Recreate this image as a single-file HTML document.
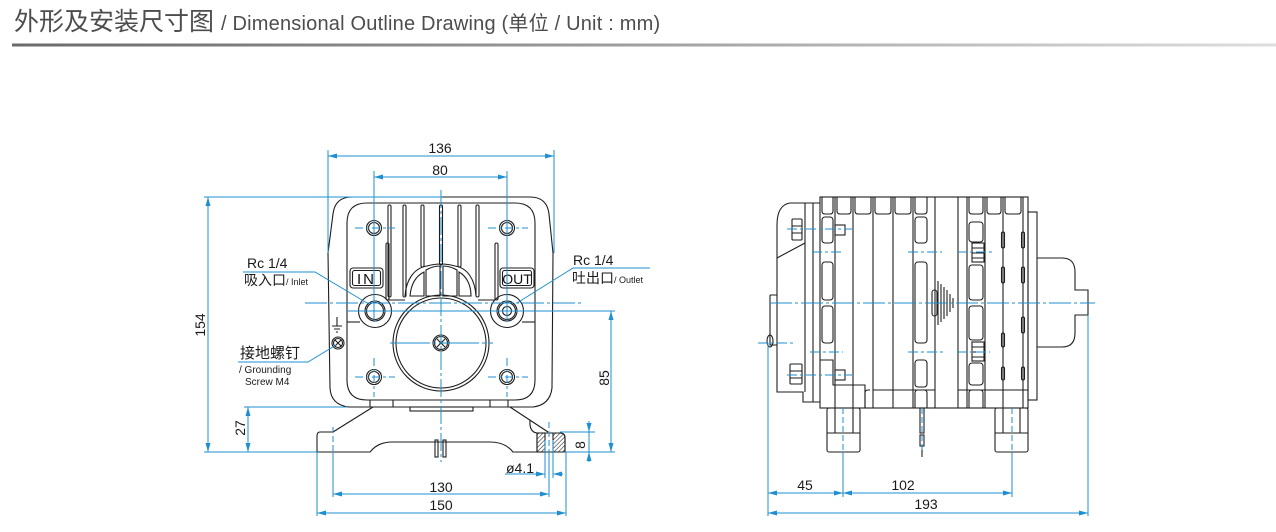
<!DOCTYPE html>
<html><head><meta charset="utf-8"><style>
html,body{margin:0;padding:0;background:#fff;}
svg{display:block;}
text{font-family:"Liberation Sans","Noto Sans CJK SC",sans-serif;}
</style></head><body>
<svg width="1276" height="532" viewBox="0 0 1276 532" xmlns="http://www.w3.org/2000/svg">
<defs>
<linearGradient id="g" x1="0" x2="1"><stop offset="0" stop-color="#6a6a6a"/><stop offset="0.45" stop-color="#9a9a9a"/><stop offset="1" stop-color="#dedede"/></linearGradient>
<marker id="a" viewBox="0 0 9 5" refX="9" refY="2.5" markerWidth="9" markerHeight="5" markerUnits="userSpaceOnUse" orient="auto-start-reverse"><path d="M0,0 L9,2.5 L0,5 z" fill="#1f8fd1"/></marker>
<pattern id="h" width="3" height="3" patternUnits="userSpaceOnUse" patternTransform="rotate(45)"><line x1="0" y1="0" x2="0" y2="3" stroke="#222" stroke-width="1.1"/></pattern>
</defs>

<!-- Title -->
<text x="14" y="30" font-size="25" fill="#4d4d4d" font-family="Noto Sans CJK SC, sans-serif">外形及安装尺寸图</text>
<text x="221" y="30" font-size="20" fill="#4d4d4d" letter-spacing="0.2">/ Dimensional Outline Drawing (单位 / Unit : mm)</text>
<rect x="12" y="43.5" width="1264" height="3" fill="url(#g)"/>

<!-- ================= LEFT VIEW (black) ================= -->
<g stroke="#1e1e1e" fill="none" stroke-width="1.1">
  <path d="M328,253 L333,214 Q335,197 352,197 L530,197 Q547,197 549,214 L553,253 L552,388 Q550,405 533,407 L349,407 Q331,405 330,388 Z"/>
  <path d="M347,223 Q347,203 367,203 L515,203 Q535,203 535,223 L535,380 Q535,400 515,400 L367,400 Q347,400 347,380 Z"/>
  <path d="M347,322 L360,322"/>
  <path d="M535,322 L522,322"/>
  <rect x="388" y="205" width="3" height="92" rx="1.5"/>
  <rect x="403" y="205" width="3" height="92" rx="1.5"/>
  <rect x="421" y="205" width="3" height="62" rx="1.5"/>
  <rect x="439.5" y="205" width="3" height="60" rx="1.5"/>
  <rect x="458" y="205" width="3" height="62" rx="1.5"/>
  <rect x="476" y="205" width="3" height="92" rx="1.5"/>
  <rect x="386" y="243" width="3" height="57" rx="1.5"/>
  <rect x="495" y="243" width="3" height="57" rx="1.5"/>
  <path d="M389,300 L405,300 M478,300 L495,300"/>
  <path d="M405,296 C406,280 414,268 427,266 Q441,262 455,266 C468,268 475,280 476,296"/>
  <path d="M410,296 C411,284 416,276 424,272 L424,296 Z"/>
  <path d="M426,296 L426,270 Q433,266 440,266 L440,296 Z"/>
  <path d="M443,296 L443,266 Q450,266 457,270 L457,296 Z"/>
  <path d="M459,296 L459,272 C466,276 471,284 471,296 Z"/>
  <circle cx="374" cy="228" r="7.5"/><circle cx="374" cy="228" r="5.5"/>
  <circle cx="507" cy="228" r="7.5"/><circle cx="507" cy="228" r="5.5"/>
  <circle cx="374" cy="377" r="7.5"/><circle cx="374" cy="377" r="5.5"/>
  <circle cx="507" cy="377" r="7.5"/><circle cx="507" cy="377" r="5.5"/>
  <circle cx="375" cy="311" r="16.5"/><circle cx="375" cy="311" r="10"/><circle cx="375" cy="311" r="8.5"/>
  <circle cx="507" cy="311" r="16.5"/><circle cx="507" cy="311" r="10"/><circle cx="507" cy="311" r="8.5"/><circle cx="507" cy="311" r="4.5"/>
  <rect x="350" y="268" width="33" height="20" rx="3"/>
  <rect x="352.5" y="270.5" width="28" height="15" rx="2"/>
  <rect x="500" y="268" width="34" height="20" rx="3"/>
  <rect x="502.5" y="270.5" width="29" height="15" rx="2"/>
  <circle cx="441" cy="343" r="48"/>
  <circle cx="441" cy="343" r="45"/>
  <circle cx="441" cy="343" r="8"/>
  <circle cx="441" cy="343" r="6.5"/>
  <path d="M437,339 L445,347 M445,339 L437,347"/>
  <path d="M337,317 L337,326 M332,326 L342,326 M334,329 L340,329 M336,332 L338,332"/>
  <circle cx="338" cy="343" r="6"/>
  <circle cx="338" cy="343" r="4.5"/>
  <path d="M335,340 L341,346 M341,340 L335,346"/>
  <path d="M370,400 L370,407 M393,400 L393,407 M490,400 L490,407 M508,400 L508,407"/>
  <rect x="410" y="407" width="63" height="4"/>
  <path d="M333,432 L320,432 Q317,432 317,436 L317,452 L370,452 Q378,442 392,442 L490,442 Q505,442 513,452 L537,452"/>
  <path d="M333,432 L373,407"/>
  <path d="M510,407 L548,432"/>
  <path d="M530,420 Q529,432 537,433"/>
  <path d="M537,433 L560,433 Q565,433 565,438 L565,452 L537,452 Z"/>
  <rect x="537" y="433" width="8" height="19" fill="url(#h)"/>
  <path d="M553,433 L560,433 Q565,433 565,438 L565,452 L553,452 Z" fill="url(#h)"/>
  <rect x="435" y="440" width="3" height="17"/>
  <rect x="443" y="440" width="3" height="17"/>
</g>
<text x="366.5" y="284" font-size="15" text-anchor="middle" fill="#111" letter-spacing="2">IN</text>
<text x="517" y="284" font-size="14" text-anchor="middle" fill="#111">OUT</text>

<!-- ================= LEFT VIEW (blue) ================= -->
<g stroke="#1f8fd1" fill="none" stroke-width="1">
  <path d="M441,190 L441,462" stroke-dasharray="18 3 3 3"/>
  <path d="M305,303 L583,303" stroke-dasharray="22 3 3 3"/>
  <path d="M390,343 L493,343" stroke-dasharray="40 3 3 3"/>
  <path d="M355,228 L395,228 M488,228 L528,228" stroke-dasharray="8 3 3 3"/>
  <path d="M355,377 L395,377 M488,377 L528,377" stroke-dasharray="8 3 3 3"/>
  <path d="M374,358 L374,397 M507,358 L507,397" stroke-dasharray="8 3 3 3"/>
  <path d="M328,150 L328,253 M554,150 L554,253"/>
  <path d="M328,156 L554,156" marker-start="url(#a)" marker-end="url(#a)"/>
  <path d="M374,171 L374,322 M507,171 L507,322"/>
  <path d="M374,177 L507,177" marker-start="url(#a)" marker-end="url(#a)"/>
  <path d="M204,197 L442,197 M204,452 L317,452"/>
  <path d="M208,197 L208,452" marker-start="url(#a)" marker-end="url(#a)"/>
  <path d="M244,407 L347,407"/>
  <path d="M248,407 L248,452" marker-start="url(#a)" marker-end="url(#a)"/>
  <path d="M347,311 L615,311 M565,452 L615,452"/>
  <path d="M611,311 L611,452" marker-start="url(#a)" marker-end="url(#a)"/>
  <path d="M560,432 L595,432"/>
  <path d="M589,421 L589,432" marker-end="url(#a)"/>
  <path d="M589,462 L589,452" marker-end="url(#a)"/>
  <path d="M589,432 L589,452"/>
  <path d="M333,427 L333,452 M549,422 L549,452" stroke-dasharray="6 3"/>
  <path d="M333,452 L333,497 M549,452 L549,497 M317,452 L317,516 M566,452 L566,516"/>
  <path d="M333,494 L549,494" marker-start="url(#a)" marker-end="url(#a)"/>
  <path d="M317,513 L566,513" marker-start="url(#a)" marker-end="url(#a)"/>
  <path d="M545,440 L545,478 M553,440 L553,478"/>
  <path d="M505,474 L545,474" marker-end="url(#a)"/>
  <path d="M563,474 L553,474" marker-end="url(#a)"/>
  <path d="M243,272 L315,272 L367,303"/>
  <path d="M650,268 L573,268 L517,303"/>
  <path d="M238,362 L308,362 L336,345"/>
</g>

<g fill="#1a1a1a" font-size="14">
  <text x="440" y="153" text-anchor="middle">136</text>
  <text x="440" y="175" text-anchor="middle">80</text>
  <text transform="translate(205,325) rotate(-90)" text-anchor="middle">154</text>
  <text transform="translate(245,428) rotate(-90)" text-anchor="middle">27</text>
  <text transform="translate(609,378) rotate(-90)" text-anchor="middle">85</text>
  <text transform="translate(585,445) rotate(-90)" text-anchor="middle">8</text>
  <text x="441" y="492" text-anchor="middle">130</text>
  <text x="441" y="510" text-anchor="middle">150</text>
  <text x="506" y="473">ø4.1</text>
  <text x="247" y="268">Rc 1/4</text>
  <text x="244" y="285">吸入口<tspan font-size="9">/ Inlet</tspan></text>
  <text x="573" y="265">Rc 1/4</text>
  <text x="572" y="283">吐出口<tspan font-size="9">/ Outlet</tspan></text>
  <text x="240" y="358" font-size="15">接地螺钉</text>
  <text x="239" y="373" font-size="10">/ Grounding</text>
  <text x="245" y="385" font-size="10">Screw M4</text>
</g>

<!-- ================= RIGHT VIEW (black) ================= -->
<g stroke="#1e1e1e" fill="none" stroke-width="1.1">
  <rect x="820" y="197" width="208" height="211"/>
  <path d="M835,197 L835,408 M853,197 L853,408 M873,197 L873,408 M893,197 L893,408 M913,197 L913,408 M935,197 L935,408 M958,197 L958,408 M967,197 L967,408 M985,197 L985,408 M1003,197 L1003,408 M1023,197 L1023,408"/>
  <path d="M822,197 L822,211 Q822,214 825,214 L830,214 Q833,214 833,211 L833,197"/>
  <path d="M837,197 L837,211 Q837,214 840,214 L848,214 Q851,214 851,211 L851,197"/>
  <path d="M855,197 L855,211 Q855,214 858,214 L868,214 Q871,214 871,211 L871,197"/>
  <path d="M875,197 L875,211 Q875,214 878,214 L888,214 Q891,214 891,211 L891,197"/>
  <path d="M895,197 L895,211 Q895,214 898,214 L908,214 Q911,214 911,211 L911,197"/>
  <path d="M915,197 L915,211 Q915,214 918,214 L924,214 Q927,214 927,211 L927,197"/>
  <path d="M969,197 L969,211 Q969,214 972,214 L980,214 Q983,214 983,211 L983,197"/>
  <path d="M987,197 L987,211 Q987,214 990,214 L998,214 Q1001,214 1001,211 L1001,197"/>
  <path d="M1005,197 L1005,211 Q1005,214 1008,214 L1018,214 Q1021,214 1021,211 L1021,197"/>
  <path d="M865,408 L865,393 Q865,390 868,390 L870,390 M873,390 L935,390 M958,390 L1028,390"/>
  <path d="M915,408 L915,393 Q915,390 918,390 L924,390 Q927,390 927,393 L927,408"/>
  <path d="M969,408 L969,393 Q969,390 972,390 L980,390 Q983,390 983,393 L983,408"/>
  <rect x="822" y="217" width="11" height="26" rx="3"/>
  <rect x="822" y="262" width="11" height="38" rx="3"/>
  <rect x="822" y="306" width="11" height="37" rx="3"/>
  <rect x="915" y="217" width="12" height="26" rx="3"/>
  <rect x="915" y="262" width="12" height="81" rx="3"/>
  <rect x="915" y="360" width="12" height="27" rx="3"/>
  <rect x="969" y="222" width="14" height="20" rx="3"/>
  <rect x="969" y="265" width="14" height="35" rx="3"/>
  <rect x="969" y="306" width="14" height="34" rx="3"/>
  <rect x="969" y="363" width="14" height="22" rx="3"/>
  <rect x="1001.5" y="232" width="3" height="16" rx="1.5"/>
  <rect x="1001.5" y="267" width="3" height="16" rx="1.5"/>
  <rect x="1001.5" y="333" width="3" height="14" rx="1.5"/>
  <rect x="1001.5" y="367" width="3" height="13" rx="1.5"/>
  <rect x="1021.5" y="232" width="3" height="16" rx="1.5"/>
  <rect x="1021.5" y="267" width="3" height="16" rx="1.5"/>
  <rect x="1021.5" y="317" width="3" height="16" rx="1.5"/>
  <rect x="1021.5" y="367" width="3" height="13" rx="1.5"/>
  <rect x="972" y="243" width="12" height="19"/>
  <path d="M972,248 L984,248 M972,253 L984,253 M972,258 L984,258"/>
  <rect x="972" y="342" width="12" height="19"/>
  <path d="M972,347 L984,347 M972,352 L984,352 M972,357 L984,357"/>
  <rect x="932" y="290" width="5" height="26" rx="2.5"/>
  <path d="M938,281 L938,325 M941,284 L941,322 M944,287 L944,319 M947,290 L947,316 M950,294 L950,312 M953,298 L953,308"/>
  <path d="M805,203 L790,203 Q777,205 777,225 L777,392 L803,392 L803,402 L820,402"/>
  <path d="M805,203 L805,392 M813,203 L813,402 M805,203 L820,203"/>
  <path d="M777,258 L805,243"/>
  <path d="M770,295 L777,295 M770,295 L770,345 L777,345"/>
  <ellipse cx="770" cy="341" rx="3" ry="6"/>
  <rect x="792" y="219" width="10" height="21" rx="1"/>
  <path d="M792,226 L802,226 M792,233 L802,233"/>
  <rect x="835" y="225" width="10" height="10"/>
  <rect x="790" y="364" width="12" height="20" rx="1"/>
  <path d="M790,371 L802,371 M790,378 L802,378"/>
  <rect x="835" y="370" width="10" height="10"/>
  <path d="M820,360 L833,360 L833,385 L865,385 L865,408"/>
  <rect x="1028" y="212" width="9" height="188"/>
  <path d="M1037,258 L1062,258 Q1075,258 1075,272 L1075,290 L1088,290 L1088,315 L1075,315 L1075,333 Q1075,347 1062,347 L1037,347"/>
  <rect x="827" y="408" width="33" height="44" rx="2"/>
  <path d="M827,433 L860,433 M835,408 L835,433 M853,408 L853,433"/>
  <rect x="995" y="408" width="33" height="44" rx="2"/>
  <path d="M995,433 L1028,433 M1003,408 L1003,433 M1020,408 L1020,433"/>
  <rect x="920" y="408" width="4" height="25"/>
  <rect x="920" y="435" width="4" height="11"/>
  <path d="M922,446 L922,457"/>
</g>

<!-- ================= RIGHT VIEW (blue) ================= -->
<g stroke="#1f8fd1" fill="none" stroke-width="1">
  <path d="M770,303 L1095,303" stroke-dasharray="22 3 3 3"/>
  <path d="M787,229 L852,229" stroke-dasharray="10 3 3 3"/>
  <path d="M787,375 L852,375" stroke-dasharray="10 3 3 3"/>
  <path d="M758,343 L795,343" stroke-dasharray="10 3 3 3"/>
  <path d="M812,252 L843,252 M908,252 L942,252 M957,252 L992,252" stroke-dasharray="10 3 3 3"/>
  <path d="M810,352 L843,352 M908,352 L943,352 M957,352 L990,352" stroke-dasharray="10 3 3 3"/>
  <path d="M843,408 L843,452 M1012,408 L1012,452 M922,408 L922,450" stroke-dasharray="6 3"/>
  <path d="M843,452 L843,497 M1012,452 L1012,497 M768,343 L768,516 M1088,315 L1088,516"/>
  <path d="M768,493 L843,493" marker-start="url(#a)" marker-end="url(#a)"/>
  <path d="M843,493 L1012,493" marker-start="url(#a)" marker-end="url(#a)"/>
  <path d="M768,513 L1088,513" marker-start="url(#a)" marker-end="url(#a)"/>
</g>
<g fill="#1a1a1a" font-size="14">
  <text x="805" y="490" text-anchor="middle">45</text>
  <text x="903" y="490" text-anchor="middle">102</text>
  <text x="926" y="509" text-anchor="middle">193</text>
</g>
</svg>
</body></html>
